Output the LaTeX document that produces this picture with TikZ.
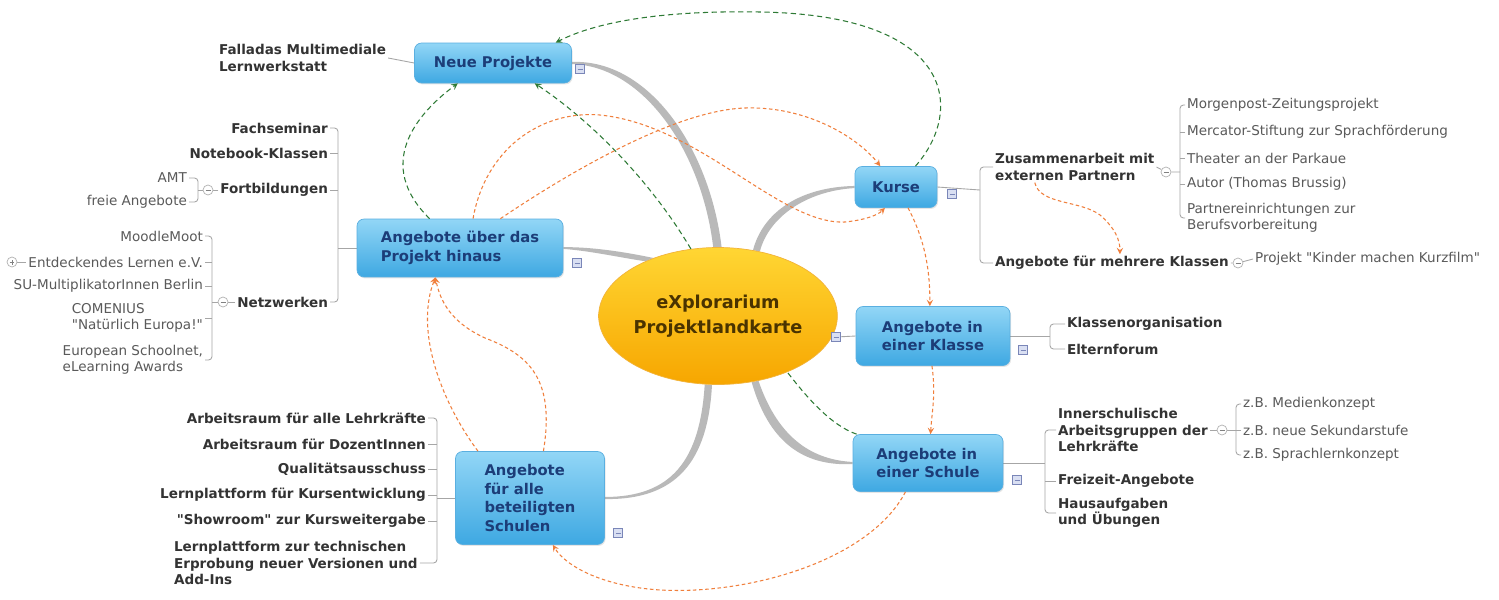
\documentclass[tikz,border=0pt]{standalone}
\usepackage{fontspec}
\setmainfont{DejaVu Sans}[Ligatures=TeXOff]
\usetikzlibrary{shapes.geometric, arrows, shadows, backgrounds}
\definecolor{boxtop}{HTML}{92D6F6}
\definecolor{boxbot}{HTML}{3EA8E2}
\definecolor{boxedge}{HTML}{5AAFE0}
\definecolor{boxtext}{HTML}{1C3D78}
\definecolor{coretop}{HTML}{FFD633}
\definecolor{corebot}{HTML}{F7A600}
\definecolor{coreedge}{HTML}{F2B33A}
\definecolor{coretext}{HTML}{4A3300}
\definecolor{subtext}{HTML}{333333}
\definecolor{leaftext}{HTML}{5A5A5A}
\definecolor{relgreen}{HTML}{2E7A35}
\definecolor{relorange}{HTML}{F07F3C}
\definecolor{foldfill}{HTML}{D9DFF2}
\definecolor{foldedge}{HTML}{7A86B8}
\tikzstyle{grel} = [draw=relgreen,dash pattern=on 3pt off 2pt,semithick,->,>=stealth]
\tikzstyle{orel} = [draw=relorange,dash pattern=on 2pt off 1.5pt,semithick,->,>=stealth]

\begin{document}
\begin{tikzpicture}
        [
            x=0.02cm, y=-0.02cm,
            topic/.style={rectangle,rounded corners=4pt,draw=boxedge,top color=boxtop,bottom color=boxbot,text=boxtext,font=\fontsize{8.4}{10.8}\selectfont\bfseries,align=left,inner sep=0pt,drop shadow={opacity=0.2,shadow xshift=0.6pt,shadow yshift=-0.8pt}},
            core/.style={ellipse,draw=coreedge,top color=coretop,bottom color=corebot,text=coretext,font=\fontsize{10.1}{14.2}\selectfont\bfseries,align=center,minimum width=4.5cm,minimum height=2.74cm,inner sep=0pt},
            sub/.style={font=\fontsize{7.7}{9.4}\selectfont\bfseries,text=subtext,inner sep=1pt},
            leaf/.style={font=\fontsize{7.7}{9.4}\selectfont,text=leaftext,inner sep=1pt},
            twig/.style={draw=gray!70,line width=0.5pt,rounded corners=2pt},
            branch/.style={fill=gray!55},
            fold/.style={rectangle,draw=foldedge,fill=foldfill,inner sep=0pt,minimum size=0.19cm,path picture={\draw[foldedge] ([xshift=-0.05cm]path picture bounding box.center) -- ([xshift=0.05cm]path picture bounding box.center);}},
            minus/.style={circle,draw=gray!60,fill=white,inner sep=0pt,minimum size=0.2cm,path picture={\draw[gray] ([xshift=-0.05cm]path picture bounding box.center) -- ([xshift=0.05cm]path picture bounding box.center);}},
            plus/.style={circle,draw=gray!60,fill=white,inner sep=0pt,minimum size=0.2cm,path picture={\draw[gray] ([xshift=-0.05cm]path picture bounding box.center) -- ([xshift=0.05cm]path picture bounding box.center) ([yshift=-0.05cm]path picture bounding box.center) -- ([yshift=0.05cm]path picture bounding box.center);}},
        ]
    \useasboundingbox (0,0) rectangle (1499,599);

    % main topics
    \node[core] (karte) at (718,316) {eXplorarium\\Projektlandkarte};
    \node[topic,align=center,minimum width=3.14cm,minimum height=0.8cm] (neu) at (493,63) {Neue Projekte};
    \node[topic,align=center,minimum width=1.64cm,minimum height=0.82cm] (kurse) at (896,187) {Kurse};
    \node[topic,minimum width=4.12cm,minimum height=1.16cm] (ueber) at (460,248) {Angebote über das\\Projekt hinaus};
    \node[topic,minimum width=3.08cm,minimum height=1.18cm] (klasse) at (933,336) {Angebote in\\einer Klasse};
    \node[topic,minimum width=3.0cm,minimum height=1.14cm] (schule) at (928,463) {Angebote in\\einer Schule};
    \node[topic,minimum width=2.98cm,minimum height=1.86cm] (alle) at (530,498) {Angebote\\für alle\\beteiligten\\Schulen};

    \node[fold] (fneu) at (580,69) {};
    \node[fold] (fkurse) at (952,194) {};
    \node[fold] (fueber) at (577,263) {};
    \node[fold] (fkarte) at (836,337) {};
    \node[fold] (fklasse) at (1023,350) {};
    \node[fold] (fschule) at (1017,480) {};
    \node[fold] (falle) at (618,533) {};

    % left side
    \node[sub,anchor=west,align=left] (fall) at (217,58) {Falladas Multimediale\\Lernwerkstatt};
    \foreach \n/\y/\t in {fach/128/Fachseminar, note/153/Notebook-Klassen, fort/190/Fortbildungen, netz/302/Netzwerken}
        \node[sub,anchor=east] (\n) at (330,\y) {\t};
    \foreach \n/\y/\t in {amt/178/AMT, frei/202/freie Angebote}
        \node[leaf,anchor=east] (\n) at (189,\y) {\t};
    \foreach \n/\y/\t in {moodle/236/MoodleMoot, entd/262/Entdeckendes Lernen e.V., sumu/286/SU-MultiplikatorInnen Berlin}
        \node[leaf,anchor=east] (\n) at (205,\y) {\t};
    \node[leaf,anchor=east,align=left] (comen) at (205,318) {COMENIUS\\"Natürlich Europa!"};
    \node[leaf,anchor=east,align=left] (eun) at (205,360) {European Schoolnet,\\eLearning Awards};
    \foreach \n/\y/\t in {lk/418/Arbeitsraum für alle Lehrkräfte, doz/444/Arbeitsraum für DozentInnen, qual/469/Qualitätsausschuss, kursent/495/Lernplattform für Kursentwicklung, show/521/"Showroom" zur Kursweitergabe}
        \node[sub,anchor=east] (\n) at (428,\y) {\t};
    \node[sub,anchor=west,align=left] (erprob) at (172,563) {Lernplattform zur technischen\\Erprobung neuer Versionen und\\Add-Ins};

    \node[minus] (mfort) at (208,190) {};
    \node[minus] (mnetz) at (223,302) {};
    \node[plus] (pentd) at (12,262) {};

    % right side
    \node[sub,anchor=west,align=left] (zus) at (993,167) {Zusammenarbeit mit\\externen Partnern};
    \node[sub,anchor=west] (meh) at (993,263) {Angebote für mehrere Klassen};
    \foreach \n/\y/\t in {morg/105/Morgenpost-Zeitungsprojekt, merc/132/Mercator-Stiftung zur Sprachförderung, theat/158/Theater an der Parkaue, autor/184/Autor (Thomas Brussig)}
        \node[leaf,anchor=west] (\n) at (1185,\y) {\t};
    \node[leaf,anchor=west,align=left] (partn) at (1185,218) {Partnereinrichtungen zur\\Berufsvorbereitung};
    \node[leaf,anchor=west] (film) at (1253,259) {Projekt "Kinder machen Kurzfilm"};
    \foreach \n/\y/\t in {korg/324/Klassenorganisation, eltern/349/Elternforum}
        \node[sub,anchor=west] (\n) at (1065,\y) {\t};
    \node[sub,anchor=west,align=left] (inner) at (1056,430) {Innerschulische\\Arbeitsgruppen der\\Lehrkräfte};
    \node[sub,anchor=west] (frei2) at (1056,481) {Freizeit-Angebote};
    \node[sub,anchor=west,align=left] (haus) at (1056,513) {Hausaufgaben\\und Übungen};
    \foreach \n/\y/\t in {medien/404/z.B. Medienkonzept, seku/430/z.B. neue Sekundarstufe, sprach/455/z.B. Sprachlernkonzept}
        \node[leaf,anchor=west] (\n) at (1241,\y) {\t};

    \node[minus] (mzus) at (1166,172) {};
    \node[minus] (mmeh) at (1238,263) {};
    \node[minus] (minner) at (1222,430) {};

    \coordinate (ub) at (338,248);
    \coordinate (fb) at (198,190);
    \coordinate (nb) at (212,302);
    \coordinate (ab) at (437,498);
    \coordinate (kb) at (980,190);
    \coordinate (zb) at (1180,172);
    \coordinate (lb) at (1050,336);
    \coordinate (sb) at (1045,463);
    \coordinate (ib) at (1236,430);

    % grey branches
    \begin{scope}[on background layer]
        \fill[white] (0,0) rectangle (1499,599);
        \fill[branch] (karte.87) .. controls (710,150) and (650,59) .. ([yshift=0.6pt]neu.east) -- ([yshift=-0.6pt]neu.east) .. controls (644,66) and (702,152) .. (karte.94) -- cycle;
        \fill[branch] (karte.62) .. controls (763,212) and (800,187) .. ([yshift=0.6pt]kurse.west) -- ([yshift=-0.6pt]kurse.west) .. controls (804,191) and (768,219) .. (karte.57) -- cycle;
        \fill[branch] (karte.138) .. controls (620,251) and (590,247) .. ([yshift=0.5pt]ueber.east) -- ([yshift=-0.5pt]ueber.east) .. controls (591,251) and (617,257) .. (karte.143) -- cycle;
        \fill[branch] (karte.259) .. controls (700,460) and (672,497) .. ([yshift=0.6pt]alle.east) -- ([yshift=-0.6pt]alle.east) .. controls (676,500) and (708,462) .. (karte.265) -- cycle;
        \fill[branch] (karte.302) .. controls (779,441) and (815,460) .. ([yshift=0.6pt]schule.west) -- ([yshift=-0.6pt]schule.west) .. controls (811,466) and (771,450) .. (karte.297) -- cycle;

        % brackets
        \draw[twig] (fall.east) -- (neu.west);
        \draw[twig] (fach.east) -| (ub) |- (netz.east);
        \foreach \n in {note,fort}
            \draw[twig] (\n.east) -- (ub |- \n.east);
        \draw[twig] (ueber.west) -- (ub);
        \draw[twig] (amt.east) -| (fb) |- (frei.east);
        \draw[twig] (fort.west) -- (mfort) -- (fb);
        \draw[twig] (moodle.east) -| (nb) |- (eun.east);
        \foreach \n in {entd,sumu,comen}
            \draw[twig] (\n.east) -- (nb |- \n.east);
        \draw[twig] (netz.west) -- (mnetz) -- (nb);
        \draw[twig] (pentd) -- (entd.west);
        \draw[twig] (lk.east) -| (ab) |- (erprob.east);
        \foreach \n in {doz,qual,kursent,show}
            \draw[twig] (\n.east) -- (ab |- \n.east);
        \draw[twig] (alle.west) -- (ab);
        \draw[twig] (zus.west) -| (kb) |- (meh.west);
        \draw[twig] (kurse.east) -- (kb);
        \draw[twig] (morg.west) -| (zb) |- (partn.west);
        \foreach \n in {merc,theat,autor}
            \draw[twig] (\n.west) -- (zb |- \n.west);
        \draw[twig] (zus.east) -- (mzus) -- (zb);
        \draw[twig] (meh.east) -- (mmeh) -- (film.west);
        \draw[twig] (karte.349) -- (fkarte) -- (klasse.west);
        \draw[twig] (korg.west) -| (lb) |- (eltern.west);
        \draw[twig] (klasse.east) -- (lb);
        \draw[twig] (inner.west) -| (sb) |- (haus.west);
        \draw[twig] (frei2.west) -- (sb |- frei2.west);
        \draw[twig] (schule.east) -- (sb);
        \draw[twig] (medien.west) -| (ib) |- (sprach.west);
        \draw[twig] (seku.west) -- (ib |- seku.west);
        \draw[twig] (inner.east) -- (minner) -- (ib);
    \end{scope}

    % relations
    \draw[grel] (kurse.47) .. controls (965,110) and (955,15) .. (760,12) .. controls (650,10) and (590,25) .. (neu.18);
    \draw[grel] (ueber.136) .. controls (375,165) and (415,115) .. (neu.210);
    \draw[grel] (karte.112) .. controls (650,180) and (590,120) .. (neu.334);
    \draw[grel,-] (schule.158) .. controls (830,425) and (805,395) .. (karte.321);

    \draw[orel] (ueber.66) .. controls (485,150) and (540,110) .. (600,115) .. controls (700,125) and (780,225) .. (845,222) .. controls (865,220) and (878,215) .. (kurse.242);
    \draw[orel] (ueber.36) .. controls (580,165) and (680,110) .. (745,108) .. controls (810,106) and (860,140) .. (kurse.127);
    \draw[orel] (kurse.300) .. controls (925,240) and (930,270) .. (klasse.96);
    \draw[orel] (klasse.268) .. controls (936,395) and (932,410) .. (schule.85);
    \draw[orel] (schule.232) .. controls (870,560) and (750,595) .. (660,590) .. controls (600,586) and (565,565) .. (alle.296);
    \draw[orel] (alle.138) .. controls (440,400) and (415,330) .. (ueber.230);
    \draw[orel] (alle.74) .. controls (555,380) and (530,355) .. (485,338) .. controls (450,322) and (440,300) .. (ueber.230);
    \draw[orel] ([xshift=-0.8cm]zus.south) .. controls (1040,205) and (1080,200) .. (1100,215) .. controls (1115,228) and (1120,240) .. ([xshift=0.16cm]meh.north);
\end{tikzpicture}
\end{document}
